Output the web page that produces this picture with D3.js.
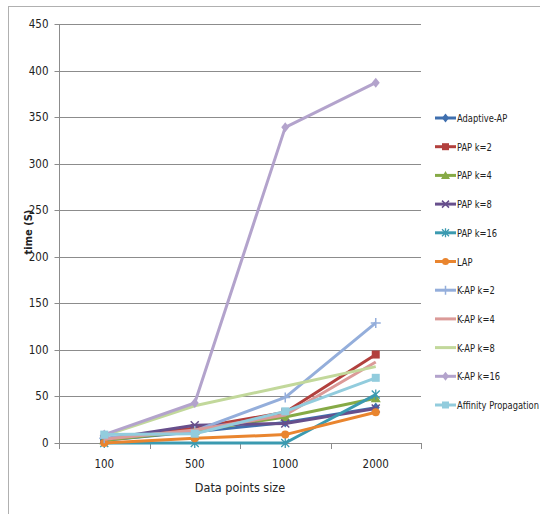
<!DOCTYPE html>
<html><head><meta charset="utf-8">
<script src="https://cdn.jsdelivr.net/npm/d3@7"></script>
<style>body{margin:0;background:#fff}svg{display:block}text{font-family:"Liberation Sans Narrow","DejaVu Sans Condensed","Liberation Sans",Arial,sans-serif}</style>
</head><body>
<svg id="c" width="540" height="514"></svg>
<script>
const categories = ["100","500","1000","2000"];
const seriesNames = ["Adaptive-AP","PAP k=2","PAP k=4","PAP k=8","PAP k=16","LAP","K-AP k=2","K-AP k=4","K-AP k=8","K-AP k=16","Affinity Propagation"];
const adaptiveAP = [3, 12, 22, 38];
const papK2 = [4, 16, 33, 95];
const papK4 = [3, 13, 28, 48];
const papK8 = [4, 19, 21, 37];
const papK16 = [0, 0, 0, 52];
const lap = [0, 5, 9, 33];
const kapK2 = [5, 13, 49, 129];
const kapK4 = [4, 14, 30, 87];
const kapK8 = [8, 40, 61, 82];
const kapK16 = [9, 43, 339, 387];
const affinity = [9, 10, 34, 70];
const yTicks = [0,50,100,150,200,250,300,350,400,450];
const colors = ["#3F6FAE","#B2403D","#86AA46","#674F8C","#3B9AB0","#E9852F","#94AEDB","#DB9A98","#C2D89B","#B3A3CC","#92CCDD"];
const markers = ["diamond","square","triangle","x","star","circle","plus","none","none","diamond","square"];
const values = [adaptiveAP,papK2,papK4,papK8,papK16,lap,kapK2,kapK4,kapK8,kapK16,affinity];
const series = seriesNames.map((n,i)=>({name:n,values:values[i],color:colors[i],marker:markers[i]}));

const svg = d3.select("#c");
svg.append("rect").attr("x",8.5).attr("y",6.5).attr("width",560).attr("height",560)
  .attr("fill","none").attr("stroke","#b0b0b0").attr("stroke-width",1);

const x = d3.scaleBand().domain(categories).range([59,421]);
const y = d3.scaleLinear().domain([0,450]).range([443,24]);

svg.append("g").selectAll("line").data(yTicks.filter(d=>d>0)).join("line")
  .attr("x1",59).attr("x2",421).attr("y1",d=>Math.round(y(d))+0.5).attr("y2",d=>Math.round(y(d))+0.5)
  .attr("stroke","#8c8c8c").attr("stroke-width",1);

const ya = svg.append("g").attr("transform","translate(59.5,0)")
  .call(d3.axisLeft(y).tickValues(yTicks).tickSize(5).tickPadding(6));
ya.select(".domain").attr("stroke","#8c8c8c").attr("d","M0,24V443.5");
ya.selectAll(".tick line").attr("stroke","#8c8c8c");
ya.selectAll(".tick").attr("transform",d=>`translate(0,${Math.round(y(d))+0.5})`);
ya.selectAll("text").attr("font-size",11.5).attr("fill","#222").style("font-family",null);

const xa = svg.append("g").attr("transform","translate(0,443.5)")
  .call(d3.axisBottom(x).tickSize(0).tickPadding(16));
xa.select(".domain").attr("stroke","#8c8c8c").attr("d","M59,0H421");
xa.selectAll("text").attr("font-size",11.5).attr("fill","#222").style("font-family",null);
const bounds = [59,...categories.map(c=>x(c)+x.bandwidth())];
svg.append("g").selectAll("line").data(bounds).join("line")
  .attr("x1",d=>Math.round(d)+0.5).attr("x2",d=>Math.round(d)+0.5).attr("y1",443).attr("y2",449)
  .attr("stroke","#8c8c8c");

svg.append("text").attr("x",240).attr("y",492).attr("text-anchor","middle")
  .attr("font-size",12.5).attr("fill","#222").text("Data points size");
svg.append("text").attr("transform","translate(32,232) rotate(-90)").attr("text-anchor","middle")
  .attr("font-size",11).attr("font-weight","bold").attr("fill","#222").text("time (S)");

function drawMarker(g, type, cx, cy, color, s){
  s = s||4;
  if(type==="diamond"){
    g.append("path").attr("d",`M${cx},${cy-s-1}L${cx+s},${cy}L${cx},${cy+s+1}L${cx-s},${cy}Z`).attr("fill",color);
  } else if(type==="square"){
    g.append("rect").attr("x",cx-s).attr("y",cy-s).attr("width",2*s).attr("height",2*s).attr("fill",color);
  } else if(type==="triangle"){
    g.append("path").attr("d",`M${cx},${cy-s-1}L${cx+s+1},${cy+s}L${cx-s-1},${cy+s}Z`).attr("fill",color);
  } else if(type==="circle"){
    g.append("circle").attr("cx",cx).attr("cy",cy).attr("r",s).attr("fill",color);
  } else if(type==="x"){
    g.append("path").attr("d",`M${cx-s},${cy-s}L${cx+s},${cy+s}M${cx-s},${cy+s}L${cx+s},${cy-s}`).attr("stroke",color).attr("stroke-width",1.5);
  } else if(type==="star"){
    g.append("path").attr("d",`M${cx-s},${cy-s}L${cx+s},${cy+s}M${cx-s},${cy+s}L${cx+s},${cy-s}M${cx},${cy-s-1}L${cx},${cy+s+1}`).attr("stroke",color).attr("stroke-width",1.3);
  } else if(type==="plus"){
    g.append("path").attr("d",`M${cx-s-1},${cy}L${cx+s+1},${cy}M${cx},${cy-s-1}L${cx},${cy+s+1}`).attr("stroke",color).attr("stroke-width",1.5);
  }
}

const line = d3.line().x((d,i)=>x(categories[i])+x.bandwidth()/2).y(d=>y(d));
const plot = svg.append("g");
series.forEach(s=>{
  const g = plot.append("g");
  g.append("path").attr("d",line(s.values)).attr("fill","none").attr("stroke",s.color)
    .attr("stroke-width",3).attr("stroke-linejoin","round");
  s.values.forEach((v,i)=>drawMarker(g,s.marker,x(categories[i])+x.bandwidth()/2,y(v),s.color,4));
});

// legend
const leg = svg.append("g");
const labels = [];
series.forEach((s,i)=>{
  const ly = 118 + i*28.7;
  const g = leg.append("g");
  g.append("line").attr("x1",435).attr("x2",456).attr("y1",ly).attr("y2",ly).attr("stroke",s.color).attr("stroke-width",3);
  drawMarker(g,s.marker,445.5,ly,s.color,3.5);
  const t = g.append("text").attr("x",0).attr("y",0).attr("font-size",11).attr("fill","#222").text(s.name);
  labels.push({t, ly});
});
// fit the longest label ("Affinity Propagation") to ~82px like the reference
const maxW = d3.max(labels, l=>l.t.node().getComputedTextLength());
const sx = Math.min(1, 82/maxW);
labels.forEach(l=>l.t.attr("transform",`translate(457,${l.ly+4}) scale(${sx},1)`));
</script>
</body></html>
